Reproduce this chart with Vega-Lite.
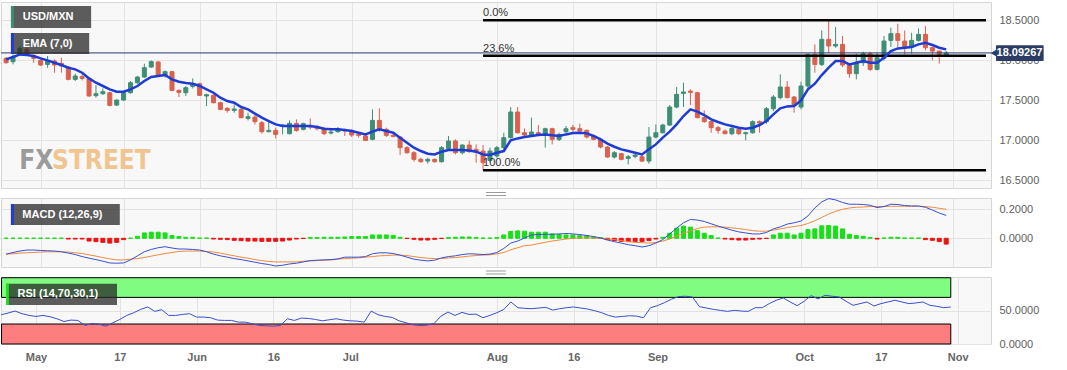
{
"$schema":"https://vega.github.io/schema/vega-lite/v6.json",
"background":"white",
"padding":{"left":0,"top":1,"right":0,"bottom":0},
"autosize":{"type":"pad"},
"spacing":10,
"bounds":"flush",
"config":{
 "view":{"fill":"#f8f8f8","stroke":"#d6d6d6"},
 "axis":{"gridColor":"#e3e3e3","labelFont":"Liberation Sans","labelColor":"#606060","labelFontSize":11,"ticks":false,"domain":false,"labelPadding":8},
 "font":"Liberation Sans"
},
"datasets":{"px":[
{"i":0,"o":18.024,"h":18.041,"l":17.958,"c":17.970,"e":18.012,"m":-0.109,"s":-0.109,"hi":0.001,"r":43.9},
{"i":1,"o":17.983,"h":18.074,"l":17.949,"c":18.041,"e":18.041,"m":-0.098,"s":-0.107,"hi":0.001,"r":46.5},
{"i":2,"o":18.074,"h":18.179,"l":18.054,"c":18.149,"e":18.074,"m":-0.088,"s":-0.102,"hi":0.001,"r":49.5},
{"i":3,"o":18.137,"h":18.158,"l":18.054,"c":18.074,"e":18.066,"m":-0.081,"s":-0.100,"hi":0.001,"r":45.5},
{"i":4,"o":18.054,"h":18.074,"l":17.970,"c":18.024,"e":18.054,"m":-0.081,"s":-0.098,"hi":0.001,"r":42.9},
{"i":5,"o":17.999,"h":18.024,"l":17.929,"c":17.941,"e":18.024,"m":-0.084,"s":-0.095,"hi":0.001,"r":41.4},
{"i":6,"o":17.949,"h":18.054,"l":17.908,"c":17.991,"e":17.999,"m":-0.086,"s":-0.093,"hi":0.001,"r":42.9},
{"i":7,"o":17.991,"h":18.012,"l":17.845,"c":17.941,"e":17.970,"m":-0.088,"s":-0.093,"hi":0.001,"r":40.9},
{"i":8,"o":17.962,"h":18.033,"l":17.845,"c":17.929,"e":17.941,"m":-0.093,"s":-0.093,"hi":0.001,"r":37.9},
{"i":9,"o":17.916,"h":17.929,"l":17.749,"c":17.762,"e":17.908,"m":-0.102,"s":-0.095,"hi":-0.005,"r":33.8},
{"i":10,"o":17.762,"h":17.833,"l":17.741,"c":17.804,"e":17.887,"m":-0.112,"s":-0.100,"hi":-0.005,"r":35.9},
{"i":11,"o":17.795,"h":17.824,"l":17.749,"c":17.774,"e":17.845,"m":-0.126,"s":-0.105,"hi":-0.005,"r":35.4},
{"i":12,"o":17.774,"h":17.783,"l":17.545,"c":17.554,"e":17.774,"m":-0.137,"s":-0.114,"hi":-0.019,"r":27.8},
{"i":13,"o":17.558,"h":17.691,"l":17.533,"c":17.583,"e":17.720,"m":-0.147,"s":-0.123,"hi":-0.023,"r":30.8},
{"i":14,"o":17.583,"h":17.649,"l":17.566,"c":17.608,"e":17.679,"m":-0.158,"s":-0.133,"hi":-0.028,"r":29.8},
{"i":15,"o":17.595,"h":17.608,"l":17.424,"c":17.437,"e":17.637,"m":-0.170,"s":-0.142,"hi":-0.033,"r":26.8},
{"i":16,"o":17.441,"h":17.512,"l":17.429,"c":17.504,"e":17.608,"m":-0.172,"s":-0.149,"hi":-0.028,"r":31.8},
{"i":17,"o":17.504,"h":17.616,"l":17.491,"c":17.595,"e":17.608,"m":-0.170,"s":-0.149,"hi":-0.009,"r":36.9},
{"i":18,"o":17.595,"h":17.741,"l":17.583,"c":17.720,"e":17.637,"m":-0.149,"s":-0.144,"hi":0.001,"r":42.9},
{"i":19,"o":17.720,"h":17.804,"l":17.708,"c":17.791,"e":17.679,"m":-0.121,"s":-0.140,"hi":0.014,"r":47.0},
{"i":20,"o":17.791,"h":17.958,"l":17.783,"c":17.908,"e":17.741,"m":-0.093,"s":-0.133,"hi":0.037,"r":52.0},
{"i":21,"o":17.916,"h":17.999,"l":17.908,"c":17.983,"e":17.791,"m":-0.077,"s":-0.123,"hi":0.042,"r":55.6},
{"i":22,"o":17.979,"h":17.991,"l":17.791,"c":17.804,"e":17.804,"m":-0.065,"s":-0.114,"hi":0.042,"r":49.0},
{"i":23,"o":17.816,"h":17.874,"l":17.783,"c":17.858,"e":17.816,"m":-0.058,"s":-0.105,"hi":0.037,"r":51.5},
{"i":24,"o":17.858,"h":17.866,"l":17.616,"c":17.624,"e":17.762,"m":-0.067,"s":-0.098,"hi":0.019,"r":42.9},
{"i":25,"o":17.624,"h":17.637,"l":17.541,"c":17.599,"e":17.733,"m":-0.074,"s":-0.091,"hi":0.012,"r":42.9},
{"i":26,"o":17.595,"h":17.679,"l":17.554,"c":17.658,"e":17.716,"m":-0.074,"s":-0.088,"hi":0.007,"r":44.4},
{"i":27,"o":17.674,"h":17.774,"l":17.649,"c":17.708,"e":17.708,"m":-0.077,"s":-0.088,"hi":0.007,"r":45.5},
{"i":28,"o":17.708,"h":17.720,"l":17.554,"c":17.562,"e":17.679,"m":-0.081,"s":-0.088,"hi":0.002,"r":40.4},
{"i":29,"o":17.554,"h":17.583,"l":17.429,"c":17.570,"e":17.637,"m":-0.093,"s":-0.091,"hi":0.002,"r":40.4},
{"i":30,"o":17.562,"h":17.574,"l":17.462,"c":17.470,"e":17.595,"m":-0.109,"s":-0.095,"hi":-0.005,"r":39.4},
{"i":31,"o":17.470,"h":17.483,"l":17.374,"c":17.387,"e":17.533,"m":-0.121,"s":-0.102,"hi":-0.007,"r":35.9},
{"i":32,"o":17.399,"h":17.416,"l":17.345,"c":17.374,"e":17.491,"m":-0.130,"s":-0.112,"hi":-0.009,"r":35.4},
{"i":33,"o":17.374,"h":17.449,"l":17.345,"c":17.391,"e":17.470,"m":-0.140,"s":-0.121,"hi":-0.014,"r":35.4},
{"i":34,"o":17.387,"h":17.399,"l":17.274,"c":17.283,"e":17.416,"m":-0.147,"s":-0.130,"hi":-0.016,"r":32.8},
{"i":35,"o":17.274,"h":17.345,"l":17.249,"c":17.295,"e":17.387,"m":-0.156,"s":-0.137,"hi":-0.019,"r":32.8},
{"i":36,"o":17.291,"h":17.316,"l":17.199,"c":17.233,"e":17.333,"m":-0.165,"s":-0.147,"hi":-0.019,"r":30.3},
{"i":37,"o":17.220,"h":17.241,"l":17.083,"c":17.108,"e":17.283,"m":-0.174,"s":-0.154,"hi":-0.021,"r":27.8},
{"i":38,"o":17.108,"h":17.241,"l":17.100,"c":17.124,"e":17.241,"m":-0.181,"s":-0.160,"hi":-0.021,"r":27.3},
{"i":39,"o":17.124,"h":17.158,"l":17.024,"c":17.074,"e":17.199,"m":-0.191,"s":-0.163,"hi":-0.021,"r":26.8},
{"i":40,"o":17.179,"h":17.199,"l":17.074,"c":17.191,"e":17.179,"m":-0.186,"s":-0.163,"hi":-0.019,"r":27.8},
{"i":41,"o":17.083,"h":17.249,"l":17.074,"c":17.212,"e":17.179,"m":-0.177,"s":-0.163,"hi":-0.012,"r":37.9},
{"i":42,"o":17.212,"h":17.262,"l":17.108,"c":17.124,"e":17.179,"m":-0.172,"s":-0.163,"hi":-0.005,"r":35.4},
{"i":43,"o":17.137,"h":17.220,"l":17.124,"c":17.208,"e":17.179,"m":-0.163,"s":-0.158,"hi":-0.001,"r":38.9},
{"i":44,"o":17.179,"h":17.274,"l":17.137,"c":17.166,"e":17.179,"m":-0.154,"s":-0.156,"hi":0.005,"r":38.4},
{"i":45,"o":17.170,"h":17.191,"l":17.124,"c":17.145,"e":17.166,"m":-0.151,"s":-0.154,"hi":0.005,"r":36.9},
{"i":46,"o":17.145,"h":17.166,"l":17.066,"c":17.083,"e":17.145,"m":-0.149,"s":-0.151,"hi":0.007,"r":34.8},
{"i":47,"o":17.091,"h":17.137,"l":17.074,"c":17.104,"e":17.137,"m":-0.147,"s":-0.149,"hi":0.007,"r":36.4},
{"i":48,"o":17.108,"h":17.166,"l":17.095,"c":17.145,"e":17.137,"m":-0.142,"s":-0.144,"hi":0.007,"r":37.9},
{"i":49,"o":17.124,"h":17.145,"l":17.054,"c":17.116,"e":17.129,"m":-0.130,"s":-0.140,"hi":0.009,"r":35.9},
{"i":50,"o":17.124,"h":17.137,"l":17.041,"c":17.066,"e":17.116,"m":-0.130,"s":-0.137,"hi":0.012,"r":34.8},
{"i":51,"o":17.074,"h":17.095,"l":17.033,"c":17.062,"e":17.095,"m":-0.130,"s":-0.135,"hi":0.012,"r":34.3},
{"i":52,"o":17.054,"h":17.074,"l":16.991,"c":16.999,"e":17.074,"m":-0.126,"s":-0.130,"hi":0.012,"r":32.8},
{"i":53,"o":17.012,"h":17.387,"l":16.999,"c":17.249,"e":17.108,"m":-0.107,"s":-0.126,"hi":0.023,"r":49.5},
{"i":54,"o":17.249,"h":17.399,"l":17.108,"c":17.137,"e":17.137,"m":-0.100,"s":-0.121,"hi":0.023,"r":43.9},
{"i":55,"o":17.137,"h":17.158,"l":17.041,"c":17.062,"e":17.116,"m":-0.100,"s":-0.119,"hi":0.023,"r":41.4},
{"i":56,"o":17.062,"h":17.083,"l":17.041,"c":17.049,"e":17.095,"m":-0.105,"s":-0.116,"hi":0.019,"r":39.9},
{"i":57,"o":17.041,"h":17.054,"l":16.816,"c":16.908,"e":17.033,"m":-0.116,"s":-0.116,"hi":0.007,"r":34.8},
{"i":58,"o":16.908,"h":16.929,"l":16.833,"c":16.845,"e":16.970,"m":-0.130,"s":-0.119,"hi":-0.001,"r":31.8},
{"i":59,"o":16.845,"h":16.866,"l":16.733,"c":16.762,"e":16.908,"m":-0.144,"s":-0.126,"hi":-0.007,"r":28.8},
{"i":60,"o":16.762,"h":16.783,"l":16.720,"c":16.733,"e":16.866,"m":-0.151,"s":-0.133,"hi":-0.012,"r":27.8},
{"i":61,"o":16.741,"h":16.783,"l":16.708,"c":16.762,"e":16.833,"m":-0.156,"s":-0.137,"hi":-0.012,"r":28.3},
{"i":62,"o":16.762,"h":16.774,"l":16.720,"c":16.733,"e":16.824,"m":-0.151,"s":-0.140,"hi":-0.007,"r":30.8},
{"i":63,"o":16.733,"h":16.929,"l":16.720,"c":16.908,"e":16.858,"m":-0.135,"s":-0.140,"hi":-0.001,"r":41.9},
{"i":64,"o":16.899,"h":17.054,"l":16.887,"c":16.991,"e":16.879,"m":-0.126,"s":-0.135,"hi":0.005,"r":48.0},
{"i":65,"o":16.991,"h":17.012,"l":16.824,"c":16.845,"e":16.879,"m":-0.121,"s":-0.133,"hi":0.007,"r":42.9},
{"i":66,"o":16.845,"h":16.949,"l":16.824,"c":16.941,"e":16.879,"m":-0.112,"s":-0.128,"hi":0.009,"r":47.5},
{"i":67,"o":16.941,"h":16.991,"l":16.845,"c":16.858,"e":16.874,"m":-0.107,"s":-0.123,"hi":0.009,"r":44.4},
{"i":68,"o":16.887,"h":16.949,"l":16.720,"c":16.866,"e":16.858,"m":-0.109,"s":-0.119,"hi":0.005,"r":44.9},
{"i":69,"o":16.866,"h":16.941,"l":16.625,"c":16.720,"e":16.824,"m":-0.112,"s":-0.116,"hi":0.002,"r":39.4},
{"i":70,"o":16.749,"h":16.908,"l":16.733,"c":16.866,"e":16.816,"m":-0.109,"s":-0.114,"hi":0.002,"r":42.9},
{"i":71,"o":16.804,"h":16.929,"l":16.783,"c":16.908,"e":16.845,"m":-0.098,"s":-0.107,"hi":0.005,"r":47.0},
{"i":72,"o":16.908,"h":17.095,"l":16.887,"c":17.033,"e":16.866,"m":-0.070,"s":-0.098,"hi":0.023,"r":52.0},
{"i":73,"o":17.033,"h":17.416,"l":17.024,"c":17.354,"e":16.999,"m":-0.033,"s":-0.079,"hi":0.047,"r":63.1},
{"i":74,"o":17.354,"h":17.416,"l":17.083,"c":17.095,"e":17.024,"m":-0.019,"s":-0.065,"hi":0.051,"r":54.5},
{"i":75,"o":17.095,"h":17.149,"l":17.054,"c":17.066,"e":17.041,"m":0.002,"s":-0.051,"hi":0.049,"r":53.5},
{"i":76,"o":17.066,"h":17.283,"l":17.054,"c":17.104,"e":17.054,"m":0.023,"s":-0.047,"hi":0.042,"r":53.0},
{"i":77,"o":17.095,"h":17.191,"l":17.054,"c":17.074,"e":17.066,"m":0.026,"s":-0.037,"hi":0.042,"r":54.0},
{"i":78,"o":17.074,"h":17.158,"l":16.908,"c":17.145,"e":17.074,"m":0.028,"s":-0.028,"hi":0.042,"r":55.0},
{"i":79,"o":17.145,"h":17.158,"l":16.949,"c":17.012,"e":17.062,"m":0.028,"s":-0.019,"hi":0.030,"r":51.0},
{"i":80,"o":17.012,"h":17.095,"l":16.991,"c":17.074,"e":17.054,"m":0.030,"s":-0.012,"hi":0.026,"r":53.0},
{"i":81,"o":17.108,"h":17.179,"l":17.083,"c":17.145,"e":17.074,"m":0.033,"s":-0.005,"hi":0.023,"r":54.5},
{"i":82,"o":17.158,"h":17.191,"l":17.108,"c":17.137,"e":17.091,"m":0.030,"s":0.000,"hi":0.023,"r":55.6},
{"i":83,"o":17.145,"h":17.208,"l":17.095,"c":17.116,"e":17.095,"m":0.026,"s":0.002,"hi":0.019,"r":54.0},
{"i":84,"o":17.124,"h":17.137,"l":17.024,"c":17.041,"e":17.087,"m":0.019,"s":0.002,"hi":0.019,"r":52.5},
{"i":85,"o":17.054,"h":17.066,"l":16.999,"c":17.012,"e":17.054,"m":0.012,"s":0.002,"hi":0.009,"r":50.0},
{"i":86,"o":17.012,"h":17.033,"l":16.899,"c":16.916,"e":17.012,"m":0.002,"s":0.000,"hi":0.005,"r":47.0},
{"i":87,"o":16.916,"h":16.929,"l":16.783,"c":16.791,"e":16.958,"m":-0.012,"s":-0.005,"hi":-0.009,"r":42.9},
{"i":88,"o":16.791,"h":16.866,"l":16.774,"c":16.845,"e":16.920,"m":-0.023,"s":-0.009,"hi":-0.016,"r":40.4},
{"i":89,"o":16.833,"h":16.845,"l":16.749,"c":16.762,"e":16.887,"m":-0.033,"s":-0.016,"hi":-0.021,"r":41.4},
{"i":90,"o":16.774,"h":16.816,"l":16.699,"c":16.795,"e":16.866,"m":-0.044,"s":-0.023,"hi":-0.023,"r":42.4},
{"i":91,"o":16.799,"h":16.845,"l":16.774,"c":16.816,"e":16.845,"m":-0.051,"s":-0.028,"hi":-0.023,"r":41.9},
{"i":92,"o":16.795,"h":16.816,"l":16.729,"c":16.741,"e":16.824,"m":-0.060,"s":-0.030,"hi":-0.023,"r":39.4},
{"i":93,"o":16.741,"h":17.166,"l":16.708,"c":17.041,"e":16.887,"m":-0.051,"s":-0.033,"hi":-0.016,"r":54.5},
{"i":94,"o":17.041,"h":17.199,"l":17.024,"c":17.095,"e":16.949,"m":-0.033,"s":-0.028,"hi":-0.005,"r":57.6},
{"i":95,"o":17.095,"h":17.208,"l":17.083,"c":17.191,"e":17.033,"m":-0.009,"s":-0.019,"hi":0.007,"r":62.1},
{"i":96,"o":17.191,"h":17.441,"l":17.179,"c":17.416,"e":17.108,"m":0.030,"s":-0.005,"hi":0.035,"r":67.2},
{"i":97,"o":17.416,"h":17.666,"l":17.399,"c":17.574,"e":17.199,"m":0.070,"s":0.014,"hi":0.070,"r":71.2},
{"i":98,"o":17.587,"h":17.720,"l":17.416,"c":17.604,"e":17.304,"m":0.107,"s":0.035,"hi":0.084,"r":71.7},
{"i":99,"o":17.616,"h":17.637,"l":17.441,"c":17.599,"e":17.387,"m":0.130,"s":0.051,"hi":0.077,"r":70.7},
{"i":100,"o":17.595,"h":17.608,"l":17.274,"c":17.283,"e":17.358,"m":0.126,"s":0.067,"hi":0.053,"r":56.1},
{"i":101,"o":17.283,"h":17.374,"l":17.220,"c":17.233,"e":17.316,"m":0.116,"s":0.077,"hi":0.035,"r":54.0},
{"i":102,"o":17.233,"h":17.249,"l":17.095,"c":17.158,"e":17.262,"m":0.100,"s":0.079,"hi":0.019,"r":52.0},
{"i":103,"o":17.158,"h":17.179,"l":17.083,"c":17.124,"e":17.229,"m":0.084,"s":0.079,"hi":0.002,"r":50.5},
{"i":104,"o":17.116,"h":17.137,"l":17.074,"c":17.083,"e":17.199,"m":0.070,"s":0.077,"hi":-0.005,"r":49.0},
{"i":105,"o":17.083,"h":17.166,"l":17.066,"c":17.149,"e":17.179,"m":0.056,"s":0.072,"hi":-0.009,"r":50.5},
{"i":106,"o":17.137,"h":17.166,"l":17.066,"c":17.083,"e":17.158,"m":0.044,"s":0.067,"hi":-0.012,"r":49.5},
{"i":107,"o":17.083,"h":17.108,"l":16.999,"c":17.095,"e":17.145,"m":0.037,"s":0.060,"hi":-0.012,"r":49.0},
{"i":108,"o":17.095,"h":17.249,"l":17.083,"c":17.233,"e":17.158,"m":0.030,"s":0.053,"hi":-0.007,"r":54.5},
{"i":109,"o":17.233,"h":17.249,"l":17.095,"c":17.216,"e":17.191,"m":0.030,"s":0.049,"hi":-0.005,"r":54.5},
{"i":110,"o":17.233,"h":17.416,"l":17.208,"c":17.395,"e":17.241,"m":0.040,"s":0.049,"hi":-0.001,"r":60.6},
{"i":111,"o":17.395,"h":17.566,"l":17.366,"c":17.541,"e":17.324,"m":0.065,"s":0.056,"hi":0.023,"r":65.7},
{"i":112,"o":17.533,"h":17.824,"l":17.512,"c":17.666,"e":17.399,"m":0.079,"s":0.065,"hi":0.035,"r":69.2},
{"i":113,"o":17.666,"h":17.741,"l":17.524,"c":17.533,"e":17.424,"m":0.098,"s":0.074,"hi":0.035,"r":63.1},
{"i":114,"o":17.541,"h":17.554,"l":17.345,"c":17.441,"e":17.429,"m":0.107,"s":0.081,"hi":0.023,"r":57.6},
{"i":115,"o":17.416,"h":17.733,"l":17.387,"c":17.679,"e":17.499,"m":0.119,"s":0.088,"hi":0.035,"r":64.1},
{"i":116,"o":17.679,"h":18.083,"l":17.649,"c":18.074,"e":17.637,"m":0.154,"s":0.102,"hi":0.060,"r":72.7},
{"i":117,"o":18.074,"h":18.199,"l":17.845,"c":17.949,"e":17.708,"m":0.209,"s":0.121,"hi":0.065,"r":67.7},
{"i":118,"o":17.949,"h":18.374,"l":17.929,"c":18.262,"e":17.816,"m":0.251,"s":0.144,"hi":0.086,"r":73.2},
{"i":119,"o":18.262,"h":18.497,"l":18.095,"c":18.179,"e":17.908,"m":0.274,"s":0.167,"hi":0.088,"r":71.7},
{"i":120,"o":18.179,"h":18.416,"l":18.158,"c":18.199,"e":17.991,"m":0.265,"s":0.186,"hi":0.084,"r":70.7},
{"i":121,"o":18.199,"h":18.304,"l":17.916,"c":17.941,"e":17.991,"m":0.247,"s":0.200,"hi":0.065,"r":64.1},
{"i":122,"o":17.941,"h":17.958,"l":17.783,"c":17.833,"e":17.949,"m":0.235,"s":0.209,"hi":0.028,"r":58.1},
{"i":123,"o":17.833,"h":18.083,"l":17.762,"c":17.970,"e":17.970,"m":0.235,"s":0.214,"hi":0.019,"r":60.6},
{"i":124,"o":17.970,"h":18.108,"l":17.929,"c":18.083,"e":17.991,"m":0.233,"s":0.216,"hi":0.014,"r":63.1},
{"i":125,"o":18.083,"h":18.108,"l":17.866,"c":17.887,"e":17.970,"m":0.228,"s":0.219,"hi":0.005,"r":57.1},
{"i":126,"o":17.887,"h":18.095,"l":17.874,"c":18.033,"e":17.970,"m":0.212,"s":0.219,"hi":-0.005,"r":60.6},
{"i":127,"o":18.024,"h":18.304,"l":17.999,"c":18.241,"e":18.033,"m":0.219,"s":0.219,"hi":0.002,"r":63.1},
{"i":128,"o":18.249,"h":18.408,"l":18.166,"c":18.333,"e":18.116,"m":0.235,"s":0.221,"hi":0.007,"r":65.7},
{"i":129,"o":18.333,"h":18.458,"l":18.166,"c":18.249,"e":18.149,"m":0.233,"s":0.221,"hi":0.007,"r":63.1},
{"i":130,"o":18.241,"h":18.374,"l":18.074,"c":18.166,"e":18.158,"m":0.226,"s":0.221,"hi":0.002,"r":60.6},
{"i":131,"o":18.166,"h":18.345,"l":18.083,"c":18.249,"e":18.166,"m":0.223,"s":0.221,"hi":0.002,"r":61.6},
{"i":132,"o":18.249,"h":18.399,"l":18.233,"c":18.324,"e":18.199,"m":0.223,"s":0.221,"hi":0.002,"r":63.1},
{"i":133,"o":18.324,"h":18.429,"l":18.124,"c":18.158,"e":18.220,"m":0.214,"s":0.219,"hi":-0.009,"r":58.1},
{"i":134,"o":18.158,"h":18.166,"l":17.999,"c":18.116,"e":18.191,"m":0.195,"s":0.214,"hi":-0.014,"r":56.6},
{"i":135,"o":18.116,"h":18.124,"l":17.958,"c":18.074,"e":18.158,"m":0.174,"s":0.207,"hi":-0.023,"r":54.5},
{"i":136,"o":18.066,"h":18.116,"l":18.041,"c":18.093,"e":18.137,"m":0.158,"s":0.200,"hi":-0.040,"r":55.6}
]},
"vconcat":[
{
 "width":990,"height":186,
 "data":{"name":"px"},
 "layer":[
  {"mark":{"type":"rule","strokeWidth":1,"clip":true},
   "encoding":{
    "x":{"field":"i","type":"quantitative","title":null,"scale":{"domain":[-0.014,141.76],"nice":false,"zero":false},
         "axis":{"values":[5,17,28,39,50,71,82,94,115,126,137],"labels":false,"grid":true}},
    "y":{"field":"l","type":"quantitative","title":null,"scale":{"domain":[16.404,18.729],"nice":false,"zero":false},
         "axis":{"orient":"right","values":[16.5,17,17.5,18,18.5],"format":".4f","grid":true}},
    "y2":{"field":"h"},
    "color":{"condition":{"test":"datum.c >= datum.o","value":"#3e8e76"},"value":"#d9614e"}}},
  {"mark":{"type":"bar","size":4,"strokeWidth":1,"clip":true},
   "encoding":{
    "x":{"field":"i","type":"quantitative","title":null},
    "y":{"field":"o","type":"quantitative","title":null},
    "y2":{"field":"c"},
    "color":{"condition":{"test":"datum.c >= datum.o","value":"#3e8e76"},"value":"#d9614e"},
    "stroke":{"condition":{"test":"datum.c >= datum.o","value":"#3e8e76"},"value":"#d9614e"}}},
  {"data":{"values":[{"v":18.09267}]},
   "mark":{"type":"rule","color":"#27396b","strokeWidth":1},
   "encoding":{"y":{"field":"v","type":"quantitative","title":null}}},
  {"data":{"values":[{"lv":"0.0%","v":18.5},{"lv":"23.6%","v":18.0575},{"lv":"100.0%","v":16.625}]},
   "layer":[
    {"mark":{"type":"rule","color":"#000000","strokeWidth":2.5},
     "encoding":{
      "x":{"datum":69,"type":"quantitative","title":null},
      "x2":{"datum":141.76},
      "y":{"field":"v","type":"quantitative","title":null}}},
    {"mark":{"type":"text","align":"left","baseline":"bottom","dy":-2,"fontSize":11,"color":"#333333"},
     "encoding":{
      "x":{"datum":69,"type":"quantitative","title":null},
      "y":{"field":"v","type":"quantitative","title":null},
      "text":{"field":"lv"}}}
   ]},
  {"mark":{"type":"line","color":"#1f3bd6","strokeWidth":2.5,"clip":true},
   "encoding":{
    "x":{"field":"i","type":"quantitative","title":null},
    "y":{"field":"e","type":"quantitative","title":null}}},
  {"data":{"values":[{"w":"FX"}]},
   "mark":{"type":"text","align":"left","baseline":"alphabetic","font":"DejaVu Sans Condensed","fontWeight":"bold","fontSize":26,"color":"#9b9b9b"},
   "encoding":{
    "x":{"datum":1.9,"type":"quantitative","title":null},
    "y":{"datum":16.641,"type":"quantitative","title":null},
    "text":{"field":"w"}}},
  {"data":{"values":[{"w":"STREET"}]},
   "mark":{"type":"text","align":"left","baseline":"alphabetic","font":"DejaVu Sans Condensed","fontWeight":"bold","fontSize":26,"color":"#f0c590"},
   "encoding":{
    "x":{"datum":6.65,"type":"quantitative","title":null},
    "y":{"datum":16.641,"type":"quantitative","title":null},
    "text":{"field":"w"}}},
  {"data":{"values":[{"g":"grip"}]},
   "layer":[
    {"mark":{"type":"rule","color":"#9a9a9a","strokeWidth":1},
     "encoding":{"x":{"datum":69.44,"type":"quantitative","title":null},"x2":{"datum":72.3},"y":{"datum":16.3475,"type":"quantitative","title":null}}},
    {"mark":{"type":"rule","color":"#9a9a9a","strokeWidth":1},
     "encoding":{"x":{"datum":69.44,"type":"quantitative","title":null},"x2":{"datum":72.3},"y":{"datum":16.31,"type":"quantitative","title":null}}}
   ]},
  {"data":{"values":[{"t":"USD/MXN"}]},
   "layer":[
    {"mark":{"type":"rect","color":"#282828","opacity":0.75},
     "encoding":{"x":{"datum":0.70,"type":"quantitative","title":null},"x2":{"datum":12.30},
      "y":{"datum":18.679,"type":"quantitative","title":null},"y2":{"datum":18.404}}},
    {"mark":{"type":"rect","color":"#3e8e76"},
     "encoding":{"x":{"datum":0.70,"type":"quantitative","title":null},"x2":{"datum":1.12},
      "y":{"datum":18.679,"type":"quantitative","title":null},"y2":{"datum":18.404}}},
    {"mark":{"type":"text","align":"left","baseline":"middle","fontSize":11,"fontWeight":"bold","color":"white"},
     "encoding":{"x":{"datum":2.42,"type":"quantitative","title":null},
      "y":{"datum":18.540,"type":"quantitative","title":null},"text":{"field":"t"}}}
   ]},
  {"data":{"values":[{"t":"EMA (7,0)"}]},
   "layer":[
    {"mark":{"type":"rect","color":"#282828","opacity":0.75},
     "encoding":{"x":{"datum":0.70,"type":"quantitative","title":null},"x2":{"datum":12.02},
      "y":{"datum":18.341,"type":"quantitative","title":null},"y2":{"datum":18.079}}},
    {"mark":{"type":"rect","color":"#1f3bd6"},
     "encoding":{"x":{"datum":0.70,"type":"quantitative","title":null},"x2":{"datum":1.12},
      "y":{"datum":18.341,"type":"quantitative","title":null},"y2":{"datum":18.079}}},
    {"mark":{"type":"text","align":"left","baseline":"middle","fontSize":11,"fontWeight":"bold","color":"white"},
     "encoding":{"x":{"datum":2.42,"type":"quantitative","title":null},
      "y":{"datum":18.205,"type":"quantitative","title":null},"text":{"field":"t"}}}
   ]},
  {"data":{"values":[{"t":"18.09267"}]},
   "layer":[
    {"mark":{"type":"point","shape":"triangle-left","filled":true,"size":90,"opacity":1,"color":"#2b3d64"},
     "encoding":{"x":{"datum":143.0,"type":"quantitative","title":null},
      "y":{"datum":18.09,"type":"quantitative","title":null}}},
    {"mark":{"type":"rect","color":"#2b3d64","cornerRadius":1},
     "encoding":{"x":{"datum":143.2,"type":"quantitative","title":null},"x2":{"datum":150.1},
      "y":{"datum":18.189,"type":"quantitative","title":null},"y2":{"datum":17.991}}},
    {"mark":{"type":"text","align":"center","baseline":"middle","font":"Liberation Sans","fontSize":11,"fontWeight":"bold","color":"white"},
     "encoding":{"x":{"datum":146.6,"type":"quantitative","title":null},
      "y":{"datum":18.09,"type":"quantitative","title":null},"text":{"field":"t"}}}
   ]}
 ]
},
{
 "width":990,"height":69,
 "data":{"name":"px"},
 "layer":[
  {"mark":{"type":"bar","size":4,"strokeWidth":1,"clip":true},
   "encoding":{
    "x":{"field":"i","type":"quantitative","title":null,"scale":{"domain":[-0.014,141.76],"nice":false,"zero":false},
         "axis":{"values":[5,17,28,39,50,71,82,94,115,126,137],"labels":false,"grid":true}},
    "y":{"field":"hi","type":"quantitative","title":null,"scale":{"domain":[-0.198,0.278],"nice":false,"zero":false},
         "axis":{"orient":"right","values":[0,0.2],"format":".4f","grid":true}},
    "y2":{"datum":0},
    "color":{"condition":{"test":"datum.hi >= 0","value":"#17e017"},"value":"#ee1111"},
    "stroke":{"condition":{"test":"datum.hi >= 0","value":"#17e017"},"value":"#ee1111"}}},
  {"mark":{"type":"line","color":"#f08a3c","strokeWidth":1,"clip":true},
   "encoding":{
    "x":{"field":"i","type":"quantitative","title":null},
    "y":{"field":"s","type":"quantitative","title":null}}},
  {"mark":{"type":"line","color":"#3a4fd0","strokeWidth":1,"clip":true},
   "encoding":{
    "x":{"field":"i","type":"quantitative","title":null},
    "y":{"field":"m","type":"quantitative","title":null}}},
  {"data":{"values":[{"g":"grip"}]},
   "layer":[
    {"mark":{"type":"rule","color":"#9a9a9a","strokeWidth":1},
     "encoding":{"x":{"datum":69.44,"type":"quantitative","title":null},"x2":{"datum":72.3},"y":{"datum":-0.2255,"type":"quantitative","title":null}}},
    {"mark":{"type":"rule","color":"#9a9a9a","strokeWidth":1},
     "encoding":{"x":{"datum":69.44,"type":"quantitative","title":null},"x2":{"datum":72.3},"y":{"datum":-0.2462,"type":"quantitative","title":null}}}
   ]},
  {"data":{"values":[{"t":"MACD (12,26,9)"}]},
   "layer":[
    {"mark":{"type":"rect","color":"#282828","opacity":0.75},
     "encoding":{"x":{"datum":0.70,"type":"quantitative","title":null},"x2":{"datum":16.45},
      "y":{"datum":0.2366,"type":"quantitative","title":null},"y2":{"datum":0.0917}}},
    {"mark":{"type":"rect","color":"#1f3bd6"},
     "encoding":{"x":{"datum":0.70,"type":"quantitative","title":null},"x2":{"datum":1.12},
      "y":{"datum":0.2366,"type":"quantitative","title":null},"y2":{"datum":0.0917}}},
    {"mark":{"type":"text","align":"left","baseline":"middle","fontSize":11,"fontWeight":"bold","color":"white"},
     "encoding":{"x":{"datum":2.35,"type":"quantitative","title":null},
      "y":{"datum":0.164,"type":"quantitative","title":null},"text":{"field":"t"}}}
   ]}
 ]
},
{
 "width":990,"height":67,
 "data":{"name":"px"},
 "layer":[
  {"mark":{"type":"line","color":"#3a4fd0","strokeWidth":1,"clip":true,"opacity":0},
   "encoding":{
    "x":{"field":"i","type":"quantitative","title":null,"scale":{"domain":[-0.014,141.76],"nice":false,"zero":false},
         "axis":{"values":[5,17,28,39,50,71,82,94,115,126,137],"grid":true,"labelExpr":"['May','17','Jun','16','Jul','Aug','16','Sep','Oct','17','Nov'][indexof([5,17,28,39,50,71,82,94,115,126,137], datum.value)]","labelFontWeight":"bold","labelColor":"#666666","labelPadding":7}},
    "y":{"field":"r","type":"quantitative","title":null,"scale":{"domain":[0,100.6],"nice":false,"zero":false},
         "axis":{"orient":"right","values":[0,50],"format":".4f","grid":true}}}},
  {"data":{"values":[{"z":"ob"}]},
   "mark":{"type":"rect","color":"#80fc80","stroke":"#000000","strokeWidth":1},
   "encoding":{"x":{"datum":0.06,"type":"quantitative","title":null},"x2":{"datum":136},
    "y":{"datum":70,"type":"quantitative","title":null},"y2":{"datum":99.5}}},
  {"data":{"values":[{"z":"os"}]},
   "mark":{"type":"rect","color":"#fc7e7e","stroke":"#000000","strokeWidth":1},
   "encoding":{"x":{"datum":0.06,"type":"quantitative","title":null},"x2":{"datum":136},
    "y":{"datum":0,"type":"quantitative","title":null},"y2":{"datum":30}}},
  {"mark":{"type":"line","color":"#3a4fd0","strokeWidth":1,"clip":true},
   "encoding":{
    "x":{"field":"i","type":"quantitative","title":null},
    "y":{"field":"r","type":"quantitative","title":null}}},
  {"data":{"values":[{"t":"RSI (14,70,30,1)"}]},
   "layer":[
    {"mark":{"type":"rect","color":"#282828","opacity":0.75},
     "encoding":{"x":{"datum":0.70,"type":"quantitative","title":null},"x2":{"datum":16.6},
      "y":{"datum":90.5,"type":"quantitative","title":null},"y2":{"datum":58.5}}},
    {"mark":{"type":"rect","color":"#22dd22"},
     "encoding":{"x":{"datum":0.70,"type":"quantitative","title":null},"x2":{"datum":1.12},
      "y":{"datum":90.5,"type":"quantitative","title":null},"y2":{"datum":58.5}}},
    {"mark":{"type":"text","align":"left","baseline":"middle","fontSize":11,"fontWeight":"bold","color":"white"},
     "encoding":{"x":{"datum":2.35,"type":"quantitative","title":null},
      "y":{"datum":74.5,"type":"quantitative","title":null},"text":{"field":"t"}}}
   ]}
 ]
}
]
}
